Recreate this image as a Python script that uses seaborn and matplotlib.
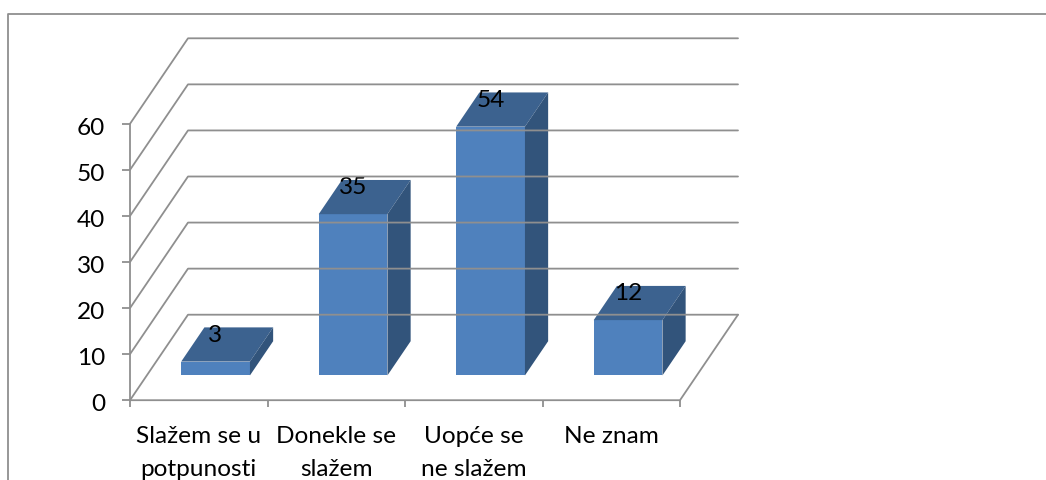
import matplotlib
matplotlib.use("Agg")
import matplotlib.pyplot as plt
import seaborn as sns
from matplotlib.lines import Line2D
from matplotlib.patches import Polygon
from matplotlib.transforms import Affine2D, IdentityTransform

categories = ["Slažem se u\npotpunosti", "Donekle se\nslažem", "Uopće se\nne slažem", "Ne znam"]
values = [3, 35, 54, 12]
y_ticks = [0, 10, 20, 30, 40, 50, 60]

W, H = 1046, 481
GREY = "#8f8f8f"
FRONT, TOP, SIDE = "#4f81bd", "#3c628f", "#32547b"
WALL_DX, WALL_DY = 58, 85.5
BAR_T0, BAR_T1 = 0.29, 0.69
FS = 17.6

sns.set_theme(style="white")
plt.rcParams["font.family"] = ["Lato", "DejaVu Sans"]

fig = plt.figure(figsize=(W / 100, H / 100), dpi=100, facecolor="white")
ax = fig.add_axes([130 / W, 1 - 401.2 / H, 550 / W, 276.4 / H], facecolor="none")

sns.barplot(x=categories, y=values, color=FRONT, saturation=1, width=0.5, ax=ax, zorder=3)
ax.set_xlim(-0.5, len(categories) - 0.5)
ax.set_ylim(y_ticks[0], y_ticks[-1])
ax.set_yticks(y_ticks)
ax.set_xlabel("")
ax.set_ylabel("")
for side in ["top", "right", "bottom"]:
    ax.spines[side].set_visible(False)
ax.spines["left"].set_color(GREY)
ax.spines["left"].set_linewidth(1.3)
ax.set_xticks([i - 0.5 for i in range(len(categories) + 1)], minor=True)
ax.tick_params(axis="x", which="minor", length=5, width=1.3, color=GREY, bottom=True)
ax.tick_params(axis="x", which="major", length=0, pad=18, labelsize=FS, labelcolor="black")
ax.tick_params(axis="y", length=6, width=1.3, color=GREY, left=True, pad=12, labelsize=FS, labelcolor="black")
for lab in ax.get_xticklabels():
    lab.set_linespacing(1.72)
    lab.set_ha("center")
for lab in ax.get_yticklabels():
    lab.set_transform(lab.get_transform() + Affine2D().translate(0, -1.5))

fig.canvas.draw()
to_disp = ax.transData


def pt(x, y, t):
    px, py = to_disp.transform((x, y))
    return (px + WALL_DX * t, py + WALL_DY * t)


def line(points, z=1):
    xs, ys = zip(*points)
    fig.add_artist(Line2D(xs, ys, transform=IdentityTransform(), color=GREY, lw=1.3, zorder=z))


# grid on the two walls, floor outline
x_l, x_r = ax.get_xlim()
for v in y_ticks:
    line([pt(x_l, v, 0), pt(x_l, v, 1), pt(x_r, v, 1)])
line([pt(x_l, 0, 0), pt(x_r, 0, 0), pt(x_r, 0, 1)])

# 3-D bars: the front faces come from seaborn, shifted onto the floor
for patch in ax.patches:
    patch.set_transform(ax.transData + Affine2D().translate(WALL_DX * BAR_T0, WALL_DY * BAR_T0))
    patch.set_clip_on(False)
    patch.set_edgecolor("none")

for patch, v in zip(list(ax.patches), values):
    x0, x1 = patch.get_x(), patch.get_x() + patch.get_width()
    top = [pt(x0, v, BAR_T0), pt(x1, v, BAR_T0), pt(x1, v, BAR_T1), pt(x0, v, BAR_T1)]
    side = [pt(x1, 0, BAR_T0), pt(x1, v, BAR_T0), pt(x1, v, BAR_T1), pt(x1, 0, BAR_T1)]
    ax.add_patch(Polygon(top, closed=True, transform=IdentityTransform(), facecolor=TOP,
                         edgecolor="none", clip_on=False, zorder=3))
    ax.add_patch(Polygon(side, closed=True, transform=IdentityTransform(), facecolor=SIDE,
                         edgecolor="none", clip_on=False, zorder=3))

for i, v in enumerate(values):
    ax.annotate(str(v), (i, v), xytext=(16.75 * 0.72, 52 * 0.72), textcoords="offset points",
                ha="center", va="center", fontsize=FS, color="black", zorder=5, annotation_clip=False)

# chart frame, cut by the image edges
fig.add_artist(Line2D([7.5 / W, 7.5 / W, 1], [0, 1 - 14.5 / H, 1 - 14.5 / H],
                      transform=fig.transFigure, color=GREY, lw=1.3))

fig.savefig("out.png", dpi=100, facecolor="white")
